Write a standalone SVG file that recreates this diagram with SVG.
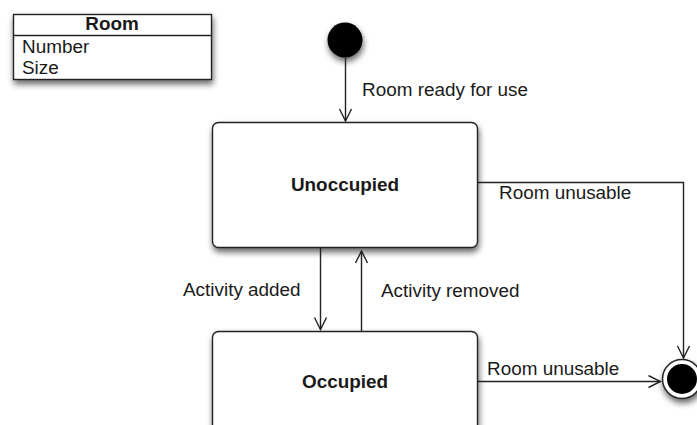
<svg xmlns="http://www.w3.org/2000/svg" width="697" height="425" viewBox="0 0 697 425">
  <defs>
    <filter id="shadow" x="-20%" y="-20%" width="140%" height="150%">
      <feDropShadow dx="1" dy="4" stdDeviation="3" flood-color="#000" flood-opacity="0.6"/>
    </filter>
    <marker id="open-arrow" viewBox="0 0 14 14" refX="13" refY="7" markerWidth="14" markerHeight="14" markerUnits="userSpaceOnUse" orient="auto">
      <path d="M1,1 L13,7 L1,13" fill="none" stroke="#222" stroke-width="1.4"/>
    </marker>
  </defs>
  <style>
    text { font-family: "Liberation Sans", Arial, Helvetica, sans-serif; font-size: 18.9px; fill: #1a1a1a; }
    .bold { font-weight: bold; }
    .state { fill: #fff; stroke: #222; stroke-width: 1.4; filter: url(#shadow); }
    .edge { fill: none; stroke: #222; stroke-width: 1.4; marker-end: url(#open-arrow); }
  </style>

  <rect width="697" height="425" fill="#fff"/>

  <!-- class box -->
  <g id="room-class">
    <rect x="13.5" y="14.5" width="198" height="65" fill="#fff" stroke="#222" stroke-width="1.4" filter="url(#shadow)"/>
    <line x1="13.5" y1="35.5" x2="211.5" y2="35.5" stroke="#222" stroke-width="1.4"/>
    <text class="bold" x="112" y="30" text-anchor="middle">Room</text>
    <text x="22" y="53">Number</text>
    <text x="22" y="74">Size</text>
  </g>

  <!-- pseudo states -->
  <g id="initial">
    <circle cx="345" cy="40" r="17.5" fill="#000" filter="url(#shadow)"/>
  </g>
  <g id="final">
    <circle cx="682" cy="379" r="19.5" fill="#fff" stroke="#222" stroke-width="1.5" filter="url(#shadow)"/>
    <circle cx="682" cy="379" r="15" fill="#000"/>
  </g>

  <!-- states -->
  <g id="unoccupied">
    <rect class="state" x="212.5" y="122.5" width="265" height="125" rx="6" ry="6"/>
    <text class="bold" x="345" y="191" text-anchor="middle">Unoccupied</text>
  </g>
  <g id="occupied">
    <rect class="state" x="212.5" y="331.5" width="265" height="125" rx="6" ry="6"/>
    <text class="bold" x="345" y="388" text-anchor="middle">Occupied</text>
  </g>

  <!-- transitions -->
  <g id="connectors">
    <path class="edge" d="M345.5,57.5 V121"/>
    <path class="edge" d="M477.5,182.5 H683.5 V358"/>
    <path class="edge" d="M320.5,248 V329.5"/>
    <path class="edge" d="M361.5,331 V251"/>
    <path class="edge" d="M477.5,381.5 H660.5"/>
  </g>

  <!-- transition labels -->
  <g id="labels">
    <text x="362" y="96">Room ready for use</text>
    <text x="499" y="199">Room unusable</text>
    <text x="183" y="296">Activity added</text>
    <text x="381" y="297">Activity removed</text>
    <text x="487" y="375">Room unusable</text>
  </g>
</svg>
